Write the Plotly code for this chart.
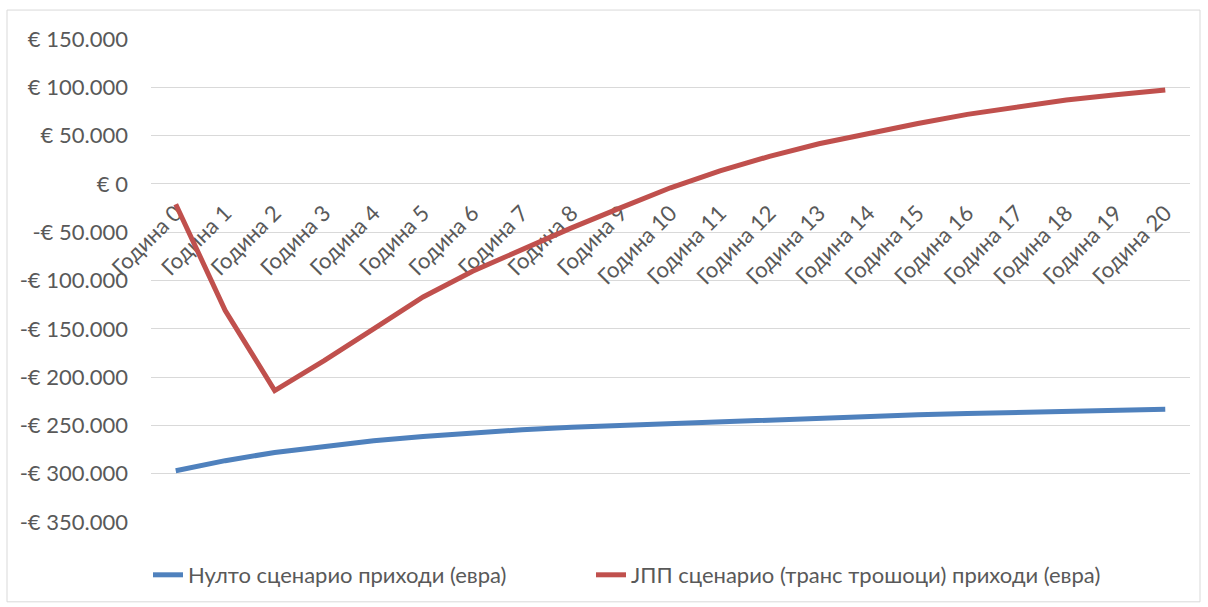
import plotly.graph_objects as go

categories = ["Година 0", "Година 1", "Година 2", "Година 3", "Година 4", "Година 5",
              "Година 6", "Година 7", "Година 8", "Година 9", "Година 10", "Година 11",
              "Година 12", "Година 13", "Година 14", "Година 15", "Година 16", "Година 17",
              "Година 18", "Година 19", "Година 20"]

null_scenario = [-297000, -286500, -278000, -271500, -266000, -261500, -257500, -254500,
                 -252000, -250000, -248000, -246000, -244000, -242000, -240500, -239000,
                 -237800, -236600, -235400, -234300, -233300]

ppp_scenario = [-21000, -131000, -214000, -183000, -150000, -117000, -90500, -67500,
                -45500, -24500, -4000, 13500, 28500, 41500, 52500, 62500, 72000, 80000,
                86800, 92300, 97300]

series_names = ["Нулто сценарио приходи (евра)", "ЈПП сценарио (транс трошоци) приходи (евра)"]

y_tickvals = [150000, 100000, 50000, 0, -50000, -100000, -150000, -200000, -250000, -300000, -350000]
y_ticktext = ["€ 150.000", "€ 100.000", "€ 50.000", "€ 0", "-€ 50.000", "-€ 100.000",
              "-€ 150.000", "-€ 200.000", "-€ 250.000", "-€ 300.000", "-€ 350.000"]

FONT = "Lato"
GREY = "#595959"
W, H = 1208, 607
L, R, T, B = 151, 18, 39, 84
pw, ph = W - L - R, H - T - B
ymin, ymax = -350000, 150000

fig = go.Figure()
fig.add_trace(go.Scatter(x=categories, y=null_scenario, mode="lines", name=series_names[0],
                         line=dict(color="#4F81BD", width=5), legend="legend"))
fig.add_trace(go.Scatter(x=categories, y=ppp_scenario, mode="lines", name=series_names[1],
                         line=dict(color="#C0504D", width=5), legend="legend2"))

def px_x(p):
    return (p - L) / pw

def px_y(p):
    return (H - B - p) / ph

legend_common = dict(orientation="h", xanchor="left", y=px_y(575), yanchor="middle",
                     font=dict(size=22, color=GREY), bgcolor="rgba(0,0,0,0)")

fig.update_layout(
    width=W, height=H,
    margin=dict(l=L, r=R, t=T, b=B),
    paper_bgcolor="white", plot_bgcolor="white",
    font=dict(family=FONT, size=22, color=GREY),
    showlegend=True,
    legend=dict(x=px_x(148), **legend_common),
    legend2=dict(x=px_x(591), **legend_common),
    xaxis=dict(type="category", range=[-0.5, len(categories) - 0.5], anchor="free",
               position=(0 - ymin) / (ymax - ymin), showgrid=False, showline=False,
               zeroline=False, ticks="", tickangle=-45, ticklabelstandoff=11,
               layer="below traces", tickfont=dict(size=22, color=GREY)),
    yaxis=dict(range=[ymin, ymax], tickvals=y_tickvals, ticktext=y_ticktext,
               showgrid=True, gridcolor="#D9D9D9", gridwidth=1, zeroline=False,
               showline=False, ticks="", ticklabelstandoff=22,
               tickfont=dict(size=22, color=GREY)),
    shapes=[dict(type="rect", xref="paper", yref="paper",
                 x0=px_x(7), x1=px_x(1200), y0=px_y(603), y1=px_y(10),
                 line=dict(color="#D9D9D9", width=1), fillcolor="rgba(0,0,0,0)", layer="below")],
)

fig.write_html("out.html")
